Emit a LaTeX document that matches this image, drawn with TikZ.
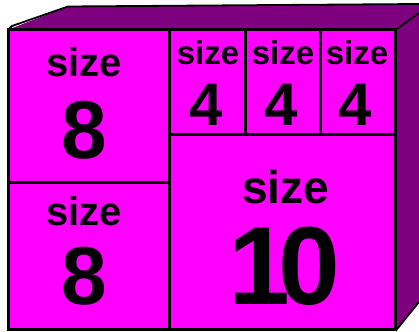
\documentclass[tikz,border=0pt]{standalone}
\usepackage{fontspec}
\setmainfont{Liberation Sans}
\definecolor{frontmag}{HTML}{FF00FF}
\definecolor{sidepurp}{HTML}{7F007F}
\begin{document}
\begin{tikzpicture}[x=1pt,y=-1pt,
  edge/.style={draw=black,line width=3pt,line join=miter},
  thin edge/.style={draw=black,line width=1.8pt},
  lbl/.style={inner sep=0pt,anchor=base,font=\bfseries},
  fs/.style={font=\bfseries\fontsize{#1}{#1}\selectfont}]
\useasboundingbox (0,0) rectangle (419,331);
% top face
\path[fill=sidepurp] (8.5,29.5) -- (68,6.5) -- (419,4) -- (419,13) -- (395.5,30) -- cycle;
\draw[thin edge] (8.5,29.5) -- (12,26) -- (68,6.5) -- (419,4);
% right face
\path[fill=sidepurp] (395.5,30) -- (419,13) -- (419,302) -- (395.5,331) -- cycle;
\draw[thin edge] (395.5,30) -- (419,13);
\draw[thin edge] (395.5,331) -- (419,302);
% front face
\draw[edge,fill=frontmag] (8.5,29.5) rectangle (395.5,329.5);
\coordinate (vt) at (169.5,29.5);
\coordinate (vb) at (169.5,329.5);
\draw[edge] (vt) -- (vb);
\coordinate (hl1) at (8.5,182);
\coordinate (hl2) at (169.5,182);
\draw[edge] (hl1) -- (hl2);
\coordinate (hr1) at (169.5,134);
\coordinate (hr2) at (395.5,134);
\draw[edge] (hr1) -- (hr2);
\coordinate (v1t) at (245,29.5);
\coordinate (v1b) at (245,134);
\draw[edge] (v1t) -- (v1b);
\coordinate (v2t) at (320,29.5);
\coordinate (v2b) at (320,134);
\draw[edge] (v2t) -- (v2b);
% texts
\node[lbl,fs=40] (s8a) at (84,77) {size};
\node[lbl,fs=82] (n8a) at (84,158) {8};
\node[lbl,fs=40] (s8b) at (84,225) {size};
\node[lbl,fs=82] (n8b) at (84,304) {8};
\node[lbl,fs=33] (s4a) at (208,65) {size};
\node[lbl,fs=60] (n4a) at (206,125) {4};
\node[lbl,fs=33] (s4b) at (283,65) {size};
\node[lbl,fs=60] (n4b) at (281,125) {4};
\node[lbl,fs=33] (s4c) at (357,65) {size};
\node[lbl,fs=60] (n4c) at (355,125) {4};
\node[lbl,fs=46] (s10) at (285.5,203) {size};
\node[lbl,fs=111] (n10) at (284.5,304) {1\kern-11pt0};
\end{tikzpicture}
\end{document}
